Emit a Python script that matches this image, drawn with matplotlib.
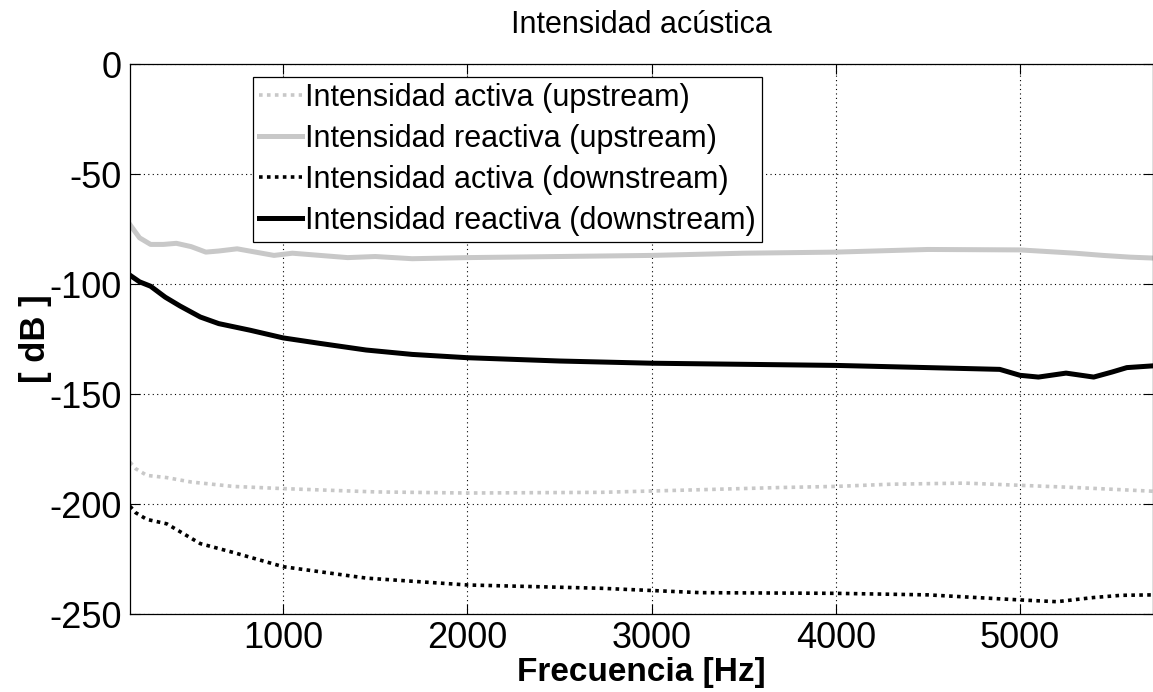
import matplotlib

matplotlib.use("Agg")
import matplotlib.pyplot as plt

# --- DATA ---
FREQ_REACT_UP = [168, 220, 280, 350, 420, 500, 580, 650, 750, 850, 950, 1050,
                 1200, 1350, 1500, 1700, 2000, 2500, 3000, 3500, 4000, 4500,
                 5000, 5300, 5450, 5600, 5722]
REACT_UP = [-73, -79, -82, -82, -81.5, -83, -85.5, -85, -84, -85.5, -87, -86,
            -87, -88, -87.5, -88.5, -88, -87.5, -87, -86, -85.5, -84.3,
            -84.5, -86, -87, -87.8, -88.2]

FREQ_REACT_DOWN = [168, 220, 280, 360, 440, 550, 650, 820, 1000, 1200, 1450,
                   1700, 2000, 2500, 3000, 3500, 4000, 4500, 4890, 5000, 5100,
                   5250, 5400, 5500, 5580, 5722]
REACT_DOWN = [-96, -99, -101, -106, -110, -115, -118, -121, -124.5, -127,
              -130, -132, -133.5, -135, -136, -136.5, -137, -138, -138.8,
              -141.5, -142.3, -140.5, -142.3, -140, -138, -137.2]

FREQ_ACT_UP = [168, 200, 260, 368, 500, 728, 1000, 1500, 2000, 2725, 3266,
               3700, 4000, 4300, 4700, 5000, 5300, 5550, 5722]
ACT_UP = [-181, -184, -187, -188, -190, -192, -193, -194.5, -195, -194.7,
          -193.5, -192.5, -192, -191, -190.5, -191.5, -192.5, -193.5, -194.2]

FREQ_ACT_DOWN = [168, 200, 260, 368, 550, 728, 1000, 1453, 2000, 2725, 3266,
                 4000, 4500, 5000, 5200, 5400, 5550, 5722]
ACT_DOWN = [-201, -204, -207, -209, -218, -222, -228.5, -233.7, -236.8,
            -238.3, -240.3, -240.6, -241.3, -243.6, -244.4, -242.5, -241.5,
            -241.3]

LABELS = [
    "Intensidad activa (upstream)",
    "Intensidad reactiva (upstream)",
    "Intensidad activa (downstream)",
    "Intensidad reactiva (downstream)",
]
X_TICKS = [1000, 2000, 3000, 4000, 5000]
Y_TICKS = [0, -50, -100, -150, -200, -250]

GRAY = "#c8c8c8"

plt.rcParams["font.family"] = ["Liberation Sans", "DejaVu Sans"]
plt.rcParams["axes.unicode_minus"] = False

fig = plt.figure(figsize=(11.53, 6.92), dpi=100)
ax = fig.add_axes([0.1127, 0.1127, 0.8873, 0.7948])

# --- CURVES ---
ax.plot(FREQ_ACT_UP, ACT_UP, color=GRAY, linestyle=(0, (1, 1.2)),
        linewidth=2.6, label=LABELS[0])
ax.plot(FREQ_REACT_UP, REACT_UP, color=GRAY, linestyle="-",
        linewidth=3.6, label=LABELS[1])
ax.plot(FREQ_ACT_DOWN, ACT_DOWN, color="black", linestyle=(0, (1, 1.2)),
        linewidth=2.6, label=LABELS[2])
ax.plot(FREQ_REACT_DOWN, REACT_DOWN, color="black", linestyle="-",
        linewidth=3.6, label=LABELS[3])

# --- AXES ---
ax.set_xlim(168, 5722)
ax.set_ylim(-250, 0)
ax.set_xticks(X_TICKS)
ax.set_yticks(Y_TICKS)
ax.tick_params(direction="in", length=7, width=0.8, top=True, right=True,
               labelsize=26, pad=6)
ax.tick_params(axis="x", pad=5)
ax.grid(True, color="black", linestyle=(0, (1, 3)), linewidth=0.8)
for sp in ax.spines.values():
    sp.set_linewidth(0.9)

ax.set_title("Intensidad acústica", fontsize=22, pad=22)
ax.set_xlabel("Frecuencia [Hz]", fontsize=24, fontweight="bold", labelpad=1)
ax.set_ylabel("[ dB ]", fontsize=25, fontweight="bold", labelpad=-2)

leg = ax.legend(loc="upper left", bbox_to_anchor=(0.12, 0.977), fontsize=22,
                frameon=True, fancybox=False, framealpha=1, edgecolor="black",
                handlelength=1.4, handletextpad=0.12, borderpad=0.2,
                labelspacing=0.36, borderaxespad=0)
leg.get_frame().set_linewidth(0.9)

fig.savefig("out.png", dpi=100)
